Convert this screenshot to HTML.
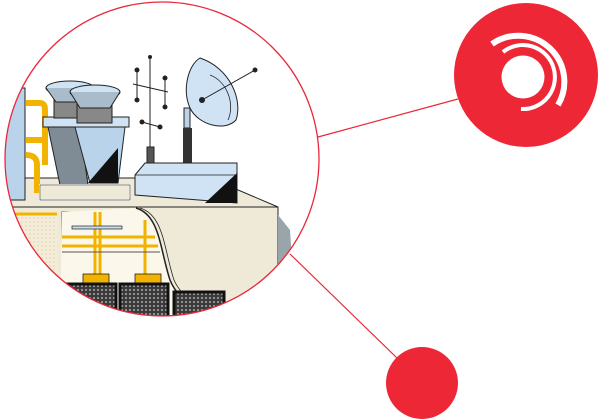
<!DOCTYPE html>
<html><head><meta charset="utf-8"><style>
html,body{margin:0;padding:0;background:#fff;width:600px;height:419px;overflow:hidden}
</style></head><body>
<svg width="600" height="419" viewBox="0 0 600 419" xmlns="http://www.w3.org/2000/svg">
<defs>
<clipPath id="c"><circle cx="162" cy="159" r="157"/></clipPath>
<pattern id="dots" width="4" height="4" patternUnits="userSpaceOnUse"><rect width="4" height="4" fill="#3a3a3a"/><circle cx="2" cy="2" r="1.1" fill="#9a9a9a"/></pattern>
<pattern id="ldots" width="4" height="4" patternUnits="userSpaceOnUse"><rect width="4" height="4" fill="#f3ecd8"/><circle cx="2" cy="2" r="0.7" fill="#e0cfa8"/></pattern>
</defs>
<line x1="318" y1="137" x2="458" y2="99" stroke="#e8283a" stroke-width="1.2"/>
<line x1="290" y1="254" x2="397" y2="358" stroke="#e8283a" stroke-width="1.2"/>
<g clip-path="url(#c)">
<rect x="0" y="0" width="330" height="330" fill="#fff"/>
<!-- roof top -->
<polygon points="0,178 135,178 210,178 278,207 0,207" fill="#efe9d8" stroke="#222" stroke-width="1"/>
<!-- front -->
<rect x="0" y="207" width="278" height="120" fill="#efe9d8" stroke="#222" stroke-width="1"/>
<polygon points="278,215 290,230 292,260 278,275" fill="#9aa4ab"/>
<rect x="0" y="212" width="57" height="110" fill="url(#ldots)"/>
<rect x="62" y="212" width="78" height="110" fill="#fbf7ea" stroke="#222" stroke-width="0.8"/>
<path d="M136,208 C160,215 160,250 170,280 C180,305 205,312 230,318 L60,330 L62,212 Z" fill="#fbf7ea"/>
<path d="M136,208 C160,215 160,250 170,280 C180,305 205,312 230,318" fill="none" stroke="#222" stroke-width="1.5"/>
<path d="M140,208 C164,215 164,250 174,280 C184,303 209,310 234,316" fill="none" stroke="#222" stroke-width="0.8"/>
<!-- yellow pipes -->
<g stroke="#f2b300" stroke-width="3" fill="none">
<line x1="0" y1="214" x2="57" y2="214"/>
<line x1="62" y1="237" x2="155" y2="237"/>
<line x1="62" y1="246" x2="158" y2="246"/>
<line x1="95" y1="212" x2="95" y2="275"/>
<line x1="100" y1="212" x2="100" y2="275"/>
<line x1="145" y1="220" x2="145" y2="275"/>
</g>
<rect x="72" y="226" width="50" height="3" fill="#c6dcef" stroke="#222" stroke-width="0.7"/>
<line x1="62" y1="252" x2="160" y2="252" stroke="#555" stroke-width="1"/>
<rect x="83" y="274" width="26" height="10" fill="#f2b300" stroke="#222" stroke-width="0.8"/>
<rect x="135" y="274" width="26" height="10" fill="#f2b300" stroke="#222" stroke-width="0.8"/>
<!-- dark boxes -->
<rect x="60" y="284" width="56" height="40" fill="url(#dots)" stroke="#111" stroke-width="3"/>
<rect x="120" y="284" width="48" height="40" fill="url(#dots)" stroke="#111" stroke-width="3"/>
<rect x="174" y="292" width="50" height="35" fill="url(#dots)" stroke="#111" stroke-width="3"/>
<!-- left tank -->
<rect x="-5" y="88" width="30" height="112" fill="#b9d3ea" stroke="#222" stroke-width="1"/>
<g stroke="#f2b300" stroke-width="6" fill="none">
<path d="M26,103 L40,103 Q45,103 45,110 L45,165"/>
<path d="M26,140 L45,140"/>
<path d="M26,155 Q37,155 37,165 L37,193"/>
</g>
<!-- cooler -->
<rect x="43" y="117" width="86" height="10" fill="#cfe3f4" stroke="#222"/>
<polygon points="48,127 80,127 88,185 60,185" fill="#7f8c96" stroke="#222"/>
<polygon points="75,127 125,127 118,183 90,183" fill="#b9d3ea" stroke="#222"/>
<polygon points="118,148 118,183 88,183" fill="#111"/>
<rect x="40" y="185" width="90" height="15" fill="none" stroke="#fff" stroke-width="2"/>
<rect x="40" y="185" width="90" height="15" fill="none" stroke="#222" stroke-width="0.6"/>
<rect x="54" y="98" width="36" height="20" fill="#888" stroke="#222"/>
<ellipse cx="70" cy="88" rx="24" ry="7" fill="#cfe3f4" stroke="#222"/>
<path d="M46,88 L56,102 L84,102 L94,88" fill="#a9bccb" stroke="#222"/>
<rect x="77" y="103" width="35" height="20" fill="#888" stroke="#222"/>
<ellipse cx="95" cy="92" rx="25" ry="7" fill="#cfe3f4" stroke="#222"/>
<path d="M70,92 L80,108 L110,108 L120,92" fill="#a9bccb" stroke="#222"/>
<!-- antenna -->
<g stroke="#222" stroke-width="1" fill="#222">
<line x1="150" y1="57" x2="150" y2="150"/>
<line x1="137" y1="70" x2="137" y2="100"/>
<line x1="165" y1="78" x2="165" y2="107"/>
<line x1="133" y1="84" x2="168" y2="92"/>
<line x1="142" y1="122" x2="160" y2="127"/>
<circle cx="150" cy="57" r="1.5"/><circle cx="137" cy="70" r="2"/><circle cx="137" cy="100" r="2"/>
<circle cx="165" cy="78" r="2"/><circle cx="165" cy="107" r="2"/><circle cx="142" cy="122" r="2"/><circle cx="160" cy="127" r="2"/>
</g>
<rect x="147" y="147" width="7" height="18" fill="#555" stroke="#222"/>
<!-- dish -->
<rect x="184" y="108" width="6" height="20" fill="#b9d3ea" stroke="#222"/>
<rect x="183" y="128" width="9" height="36" fill="#333"/>
<path d="M200,58 C188,65 182,90 190,108 C198,125 225,132 236,120 C243,100 230,68 200,58 Z" fill="#cfe3f4" stroke="#222"/>
<path d="M210,75 C228,82 235,105 228,120" fill="none" stroke="#222" stroke-width="0.8"/>
<line x1="202" y1="100" x2="255" y2="70" stroke="#222"/>
<circle cx="202" cy="100" r="3" fill="#222"/><circle cx="255" cy="70" r="2.5" fill="#222"/>
<!-- box -->
<polygon points="135,175 145,163 237,163 237,203 135,195" fill="#cfe3f4" stroke="#222"/>
<polygon points="237,173 237,203 205,203" fill="#111"/>
<line x1="135" y1="175" x2="237" y2="175" stroke="#222" stroke-width="0.8"/>
</g>
<circle cx="162" cy="159" r="157" fill="none" stroke="#e8283a" stroke-width="1.3"/>
<circle cx="526" cy="75" r="72" fill="#ee2737"/>
<circle cx="523" cy="77" r="21.5" fill="#fff"/>
<path d="M503,52 A32,32 0 1 1 521,109" fill="none" stroke="#fff" stroke-width="4"/>
<path d="M492,44 A46,46 0 0 1 558,105" fill="none" stroke="#fff" stroke-width="6"/>
<circle cx="422" cy="383" r="36" fill="#ee2737"/>
</svg>
</body></html>
